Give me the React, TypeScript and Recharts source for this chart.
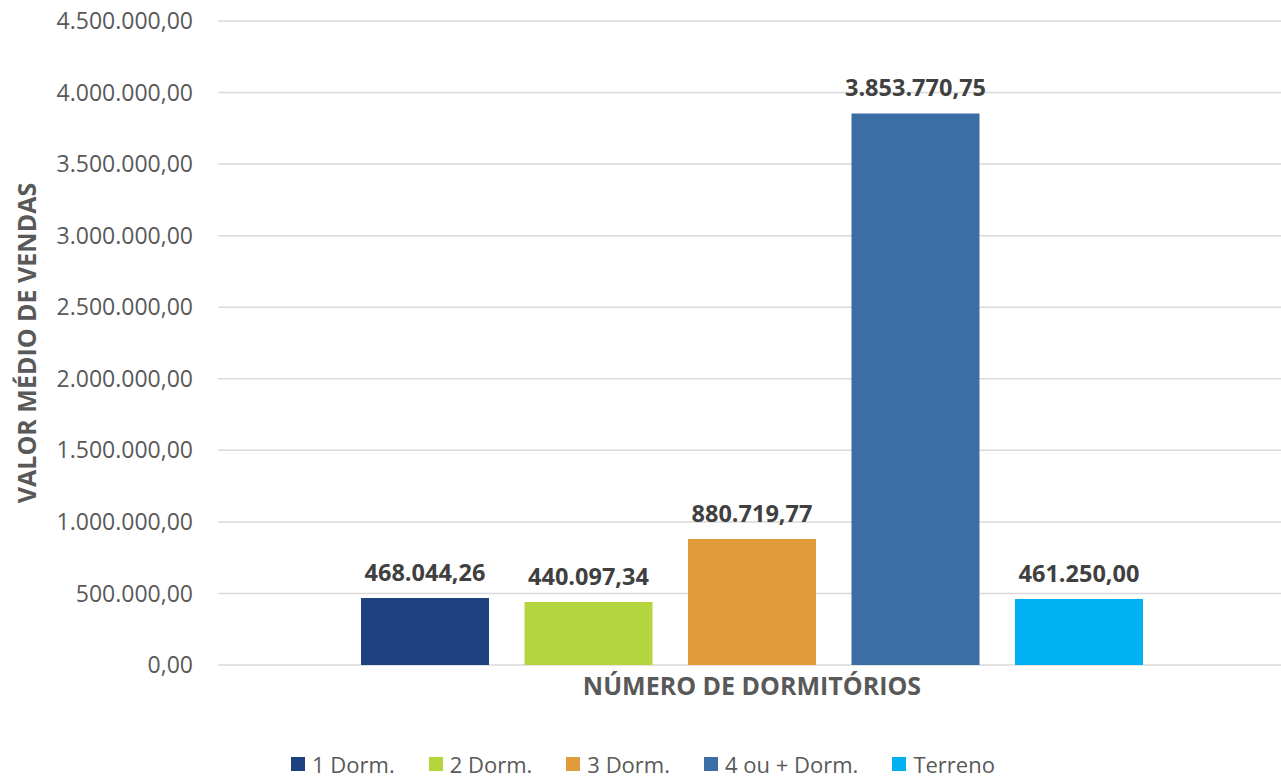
import React from 'react';
import { BarChart, Bar, XAxis, YAxis, CartesianGrid, Legend, LabelList } from 'recharts';

const seriesNames = ['1 Dorm.', '2 Dorm.', '3 Dorm.', '4 ou + Dorm.', 'Terreno'];
const seriesValues = [468044.26, 440097.34, 880719.77, 3853770.75, 461250.0];
const seriesColors = ['#1F4182', '#B5D53E', '#E29B3B', '#3A6EA5', '#00B0F0'];
const yTicks = [0, 500000, 1000000, 1500000, 2000000, 2500000, 3000000, 3500000, 4000000, 4500000];

const row: Record<string, string | number> = { name: 'Número de dormitórios' };
seriesNames.forEach((n, i) => {
  row[n] = seriesValues[i];
});
const data = [row];

const fmt = (v: number) =>
  v.toLocaleString('pt-BR', { minimumFractionDigits: 2, maximumFractionDigits: 2 });

const FONT = '"Open Sans", sans-serif';

const LegendContent = (props: any) => {
  const items = props.payload || [];
  return (
    <div
      style={{
        display: 'flex',
        justifyContent: 'center',
        gap: 34,
        fontFamily: FONT,
        fontSize: 22,
        lineHeight: '24px',
        height: 24,
        color: '#595959',
      }}
    >
      {items.map((it: any) => (
        <div key={it.value} style={{ display: 'flex', alignItems: 'center' }}>
          <span
            style={{
              width: 14,
              height: 14,
              background: it.color,
              display: 'inline-block',
              marginRight: 7,
            }}
          />
          <span>{it.value}</span>
        </div>
      ))}
    </div>
  );
};

export default function App() {
  return (
    <div style={{ position: 'absolute', left: 0, top: 0, background: '#fff', width: 1281, height: 778, overflow: 'hidden' }}>
      <BarChart
        width={1281}
        height={778}
        data={data}
        margin={{ top: 21, right: -5, left: 0, bottom: 7 }}
        barGap={35.5}
        barCategoryGap={141}
      >
        <CartesianGrid vertical={false} stroke="#D9D9D9" strokeWidth={1.5} />
        <XAxis
          dataKey="name"
          tick={false}
          tickLine={false}
          axisLine={false}
          height={82}
          label={{
            value: 'NÚMERO DE DORMITÓRIOS',
            position: 'insideTop',
            offset: 12,
            fill: '#595959',
            fontFamily: FONT,
            fontSize: 25,
            fontWeight: 700,
          }}
        />
        <YAxis
          width={218}
          domain={[0, 4500000]}
          ticks={yTicks}
          tickFormatter={fmt}
          tickLine={false}
          axisLine={false}
          tickSize={0}
          tickMargin={25}
          tick={{ fill: '#595959', fontFamily: FONT, fontSize: 23 }}
          label={{
            value: 'VALOR MÉDIO DE VENDAS',
            angle: -90,
            position: 'insideLeft',
            offset: 27,
            style: { textAnchor: 'middle' },
            fill: '#595959',
            fontFamily: FONT,
            fontSize: 25,
            fontWeight: 700,
          }}
        />
        <Legend verticalAlign="bottom" content={<LegendContent />} wrapperStyle={{ bottom: 2 }} />
        {seriesNames.map((n, i) => (
          <Bar key={n} dataKey={n} fill={seriesColors[i]} barSize={128} isAnimationActive={false}>
            <LabelList
              dataKey={n}
              position="top"
              offset={17}
              formatter={(v: any) => fmt(Number(v))}
              fill="#404040"
              fontFamily={FONT}
              fontSize={23.5}
              fontWeight={700}
            />
          </Bar>
        ))}
      </BarChart>
    </div>
  );
}
